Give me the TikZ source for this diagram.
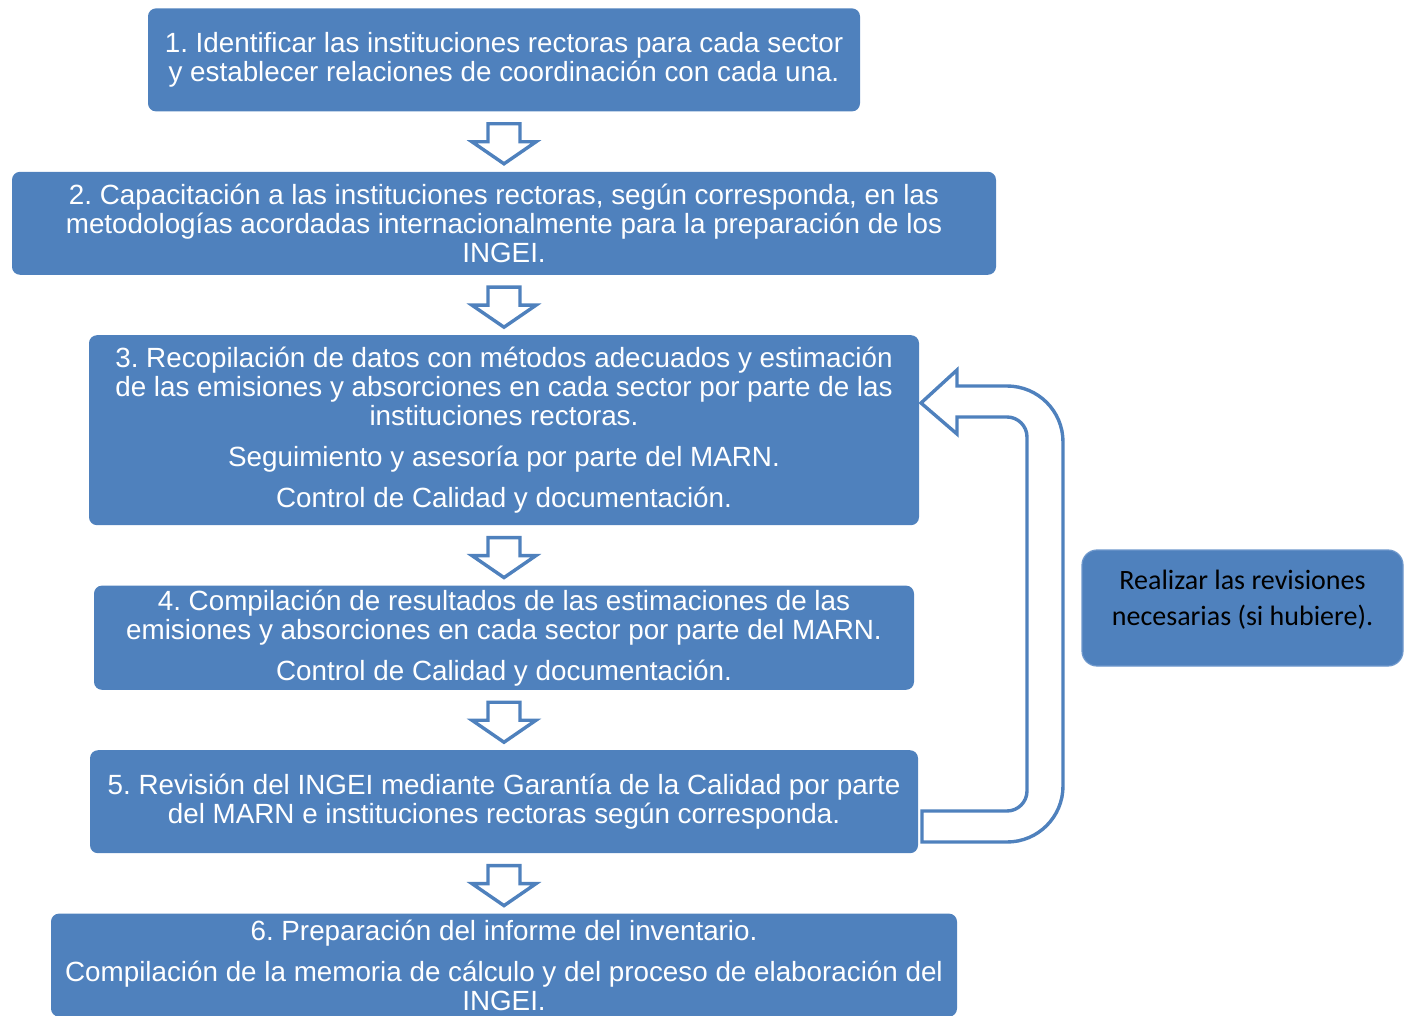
\documentclass[tikz,border=0pt]{standalone}
\usepackage{fontspec}
\setmainfont{Liberation Sans}
\newfontfamily\notefont{Carlito}
\usetikzlibrary{calc,positioning}
\definecolor{marnblue}{RGB}{79,129,189}
\definecolor{marnedge}{RGB}{110,152,204}
\frenchspacing

\tikzset{
  stepbox/.style={fill=marnblue, rounded corners=4pt, text=white, align=center,
    font=\fontsize{13.9}{14.5}\selectfont, minimum height=51.5pt, inner sep=2pt},
  revbox/.style={fill=marnblue, draw=marnedge, line width=0.6pt, rounded corners=7.5pt,
    minimum width=160.5pt, minimum height=58pt},
  downarr/.style={draw=marnblue, fill=white, line width=1.7pt, line join=miter},
  backarr/.style={draw=marnblue, fill=white, line width=1.7pt, line join=miter}
}

\begin{document}
\begin{tikzpicture}[x=0.5pt, y=-0.5pt, node distance=29.8pt]
    \useasboundingbox (0,0) rectangle (1404,1016);
    % pasos
    \node[stepbox, minimum width=356pt, anchor=north] (b1) at (504,8)
      {1. Identificar las instituciones rectoras para cada sector\\
       y establecer relaciones de coordinación con cada una.};
    \node[stepbox, minimum width=492pt, below=of b1] (b2)
      {2. Capacitación a las instituciones rectoras, según corresponda, en las\\
       metodologías acordadas internacionalmente para la preparación de los\\
       INGEI.};
    \node[stepbox, minimum width=415pt, minimum height=95pt, below=of b2] (b3)
      {3. Recopilación de datos con métodos adecuados y estimación\\
       de las emisiones y absorciones en cada sector por parte de las\\
       instituciones rectoras.\\[6pt]
       Seguimiento y asesoría por parte del MARN.\\[6pt]
       Control de Calidad y documentación.};
    \node[stepbox, minimum width=410pt, below=of b3] (b4)
      {4. Compilación de resultados de las estimaciones de las\\
       emisiones y absorciones en cada sector por parte del MARN.\\[6pt]
       Control de Calidad y documentación.};
    \node[stepbox, minimum width=414pt, below=of b4] (b5)
      {5. Revisión del INGEI mediante Garantía de la Calidad por parte\\
       del MARN e instituciones rectoras según corresponda.};
    \node[stepbox, minimum width=453pt, below=of b5] (b6)
      {6. Preparación del informe del inventario.\\[6pt]
       Compilación de la memoria de cálculo y del proceso de elaboración del\\
       INGEI.};
    % flechas de bloque
    \foreach \p in {b1,b2,b3,b4,b5}
      \draw[downarr] ($(\p.south)+(-16,12)$) -- ++(32,0) -- ++(0,18) -- ++(16,0)
        -- ++(-32,22) -- ++(-32,-22) -- ++(16,0) -- cycle;
    % retorno de 5 a 3
    \draw[backarr] (921,403) -- (957,370) -- (957,386) -- (1007,386)
      .. controls (1038,386) and (1063,411) .. (1063,442) -- (1063,786)
      .. controls (1063,817) and (1038,842) .. (1007,842) -- (922,842) -- (922,811)
      -- (1007,811) .. controls (1018,811) and (1027,802) .. (1027,791) -- (1027,437)
      .. controls (1027,426) and (1018,417) .. (1007,417) -- (957,417) -- (957,434) -- cycle;
    \node[revbox] (rev) at (1242.5,608) {};
    \node[font=\notefont\fontsize{14}{18}\selectfont, align=center, inner sep=0pt]
      at ($(rev.center)+(0,-8)$) {Realizar las revisiones\\necesarias (si hubiere).};
\end{tikzpicture}
\end{document}
